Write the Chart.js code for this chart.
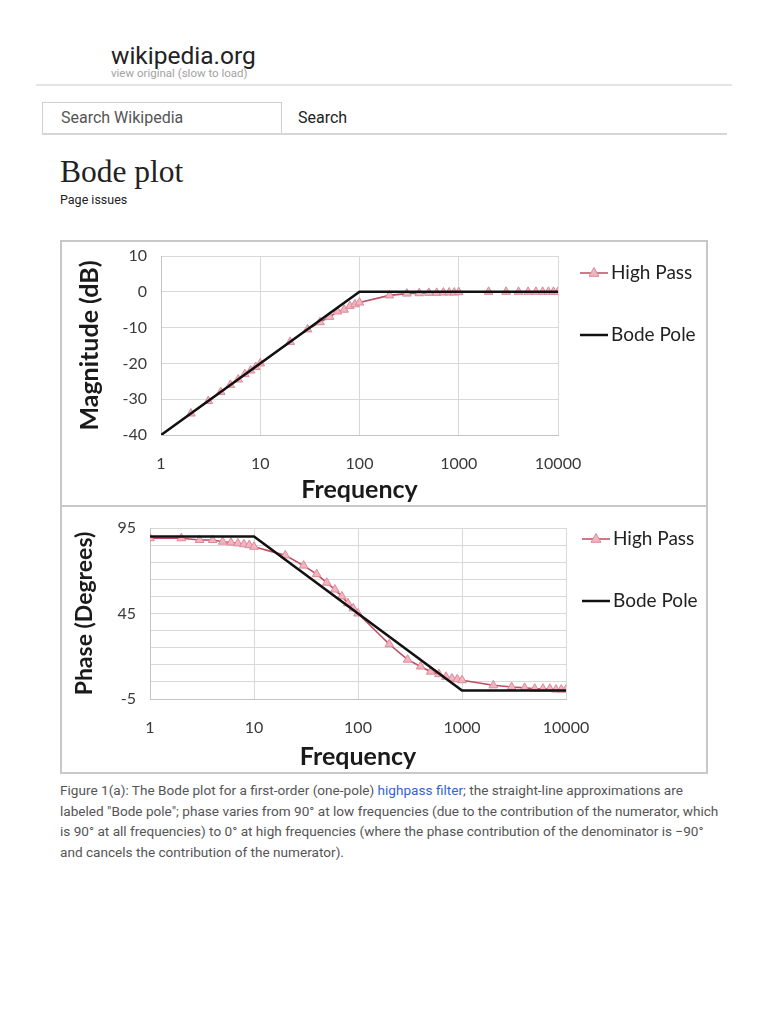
<!DOCTYPE html>
<html>
<head>
<meta charset="utf-8">
<script src="https://cdn.jsdelivr.net/npm/chart.js@4.4.1/dist/chart.umd.min.js"></script>
<style>
  body { margin: 0; background: #fff; font-family: Roboto, sans-serif; color: #222; }
  #page { position: relative; width: 768px; height: 1024px; overflow: hidden; }
  .abs { position: absolute; white-space: nowrap; }
  canvas { position: absolute; }
</style>
</head>
<body>
<div id="page">
  <div class="abs" style="left:111px;top:42px;font-size:24.5px;line-height:28px;color:#222">wikipedia.org</div>
  <div class="abs" style="left:111px;top:67px;font-size:11.5px;line-height:13px;color:#a2a2a2">view original (slow to load)</div>
  <div class="abs" style="left:36px;top:84px;width:696px;height:2px;background:#e4e4e4"></div>

  <div class="abs" style="left:42px;top:102px;width:240px;height:32px;border:1px solid #cfcfcf;box-sizing:border-box"></div>
  <div class="abs" style="left:42px;top:133px;width:685px;height:2px;background:#d6d6d6"></div>
  <div class="abs" style="left:61px;top:108px;font-size:16px;line-height:20px;color:#555">Search Wikipedia</div>
  <div class="abs" style="left:298px;top:108px;font-size:16px;line-height:20px;color:#222">Search</div>

  <div class="abs" style="left:60px;top:153px;font-family:'Liberation Serif',serif;font-size:31.5px;line-height:38px;color:#222">Bode plot</div>
  <div class="abs" style="left:60px;top:192px;font-size:12.5px;line-height:16px;color:#222">Page issues</div>

  <div class="abs" style="left:60px;top:240px;width:648px;height:534px;border:2px solid #c8c8c8;box-sizing:border-box"></div>
  <div class="abs" style="left:60px;top:505px;width:648px;height:2px;background:#c8c8c8"></div>
  <canvas id="mag" width="644" height="263" style="left:62px;top:242px"></canvas>
  <canvas id="phase" width="644" height="265" style="left:62px;top:507px"></canvas>

  <div class="abs" style="left:60px;top:780px;font-size:13.6px;line-height:20.7px;color:#555">Figure 1(a): The Bode plot for a first-order (one-pole) <span style="color:#3366cc">highpass filter</span>; the straight-line approximations are<br>labeled "Bode pole"; phase varies from 90° at low frequencies (due to the contribution of the numerator, which<br>is 90° at all frequencies) to 0° at high frequencies (where the phase contribution of the denominator is −90°<br>and cancels the contribution of the numerator).</div>
</div>

<script>
// values
const decades = [1, 10, 100, 1000, 10000];

const magFreq = [2, 3, 4, 5, 6, 7, 8, 9, 10, 20, 30, 40, 50, 60, 70, 80, 90,
  100, 200, 300, 400, 500, 600, 700, 800, 900,
  1000, 2000, 3000, 4000, 5000, 6000, 7000, 8000, 9000, 10000];
const magHighPass = [-34, -30.5, -28, -26, -24.5, -23, -22, -21, -20, -14, -10.5, -8.5, -7, -5.5, -5, -4, -3.5,
  -3, -1, -0.5, -0.4, -0.3, -0.3, -0.2, -0.2, -0.2,
  -0.1, 0, 0, 0, 0, 0, 0, 0, 0, 0];
const magPoleFreq = [1, 100, 10000];
const magPole = [-40, 0, 0];

const phaseFreq = [1, 2, 3, 4, 5, 6, 7, 8, 9, 10, 20, 30, 40, 50, 60, 70, 80, 90,
  100, 200, 300, 400, 500, 600, 700, 800, 900,
  1000, 2000, 3000, 4000, 5000, 6000, 7000, 8000, 9000, 10000];
const phaseHighPass = [89, 89, 88, 88, 87, 86.5, 86, 85.5, 85, 84, 79, 73, 68, 63, 59, 55, 51, 48,
  45, 27, 18, 14, 11, 9.5, 8, 7, 6.5,
  6, 3, 2, 1.5, 1, 1, 1, 0.5, 0.5, 0.5];
const phasePoleFreq = [1, 10, 1000, 10000];
const phasePole = [90, 90, 0, 0];
const phaseLabels = [-5, 45, 95];

const FONT = 'Lato, "Open Sans", sans-serif';
const pink = '#bd4d62';
const pinkFill = '#f2b4bf';
const pinkEdge = '#dc8a99';

function pts(xs, ys) { return xs.map((x, i) => ({ x, y: ys[i] })); }

function triangle(ctx, x, y, r) {
  ctx.beginPath();
  ctx.moveTo(x, y - r);
  ctx.lineTo(x + r * 0.9, y + r * 0.6);
  ctx.lineTo(x - r * 0.9, y + r * 0.6);
  ctx.closePath();
  ctx.fillStyle = pinkFill;
  ctx.fill();
  ctx.strokeStyle = pinkEdge;
  ctx.lineWidth = 1;
  ctx.stroke();
}

// right-hand legend like the spreadsheet one
const sideLegend = {
  id: 'sideLegend',
  afterDraw(chart, args, o) {
    const ctx = chart.ctx;
    ctx.save();
    ctx.font = '19px ' + FONT;
    ctx.textBaseline = 'middle';
    // High Pass
    ctx.strokeStyle = pink; ctx.lineWidth = 1.5;
    ctx.beginPath(); ctx.moveTo(o.x, o.y1); ctx.lineTo(o.x + 28, o.y1); ctx.stroke();
    triangle(ctx, o.x + 14, o.y1, 5.5);
    ctx.fillStyle = '#222';
    ctx.fillText('High Pass', o.x + 31, o.y1);
    // Bode Pole
    ctx.strokeStyle = '#111'; ctx.lineWidth = 2.5;
    ctx.beginPath(); ctx.moveTo(o.x, o.y2); ctx.lineTo(o.x + 28, o.y2); ctx.stroke();
    ctx.fillText('Bode Pole', o.x + 31, o.y2);
    ctx.restore();
  }
};

function bode(canvas, c) {
  return new Chart(canvas, {
    type: 'scatter',
    data: {
      datasets: [
        {
          label: 'High Pass', data: c.hp, showLine: true, order: 1,
          borderColor: pink, borderWidth: 1.6,
          pointStyle: 'triangle', pointRadius: 5,
          pointBackgroundColor: pinkFill, pointBorderColor: pinkEdge, pointBorderWidth: 1
        },
        {
          label: 'Bode Pole', data: c.pole, showLine: true, order: 0,
          borderColor: '#111', borderWidth: 2.6, pointRadius: 0
        }
      ]
    },
    options: {
      responsive: false,
      animation: false,
      layout: { padding: { left: 0, top: c.top, right: c.right, bottom: 0 } },
      plugins: { legend: { display: false }, tooltip: { enabled: false }, sideLegend: c.legend },
      scales: {
        x: {
          type: 'logarithmic', min: 1, max: 10000,
          afterBuildTicks: s => { s.ticks = decades.map(v => ({ value: v })); },
          afterFit: s => { s.height = c.xh; s.paddingLeft = 0; s.paddingRight = 0; },
          ticks: { color: '#3a3a3a', font: { family: FONT, size: 16 }, padding: c.xpad, autoSkip: false, maxRotation: 0, callback: v => String(v) },
          grid: { color: '#d8d8d8', drawTicks: false },
          border: { color: '#c4c4c4' },
          title: { display: true, text: 'Frequency', color: '#1a1a1a', font: { family: FONT, size: 25, weight: 'bold' }, padding: { top: 0, bottom: 0 } }
        },
        y: {
          min: c.ymin, max: c.ymax,
          ticks: { stepSize: 10, autoSkip: false, color: '#3a3a3a', font: { family: FONT, size: 16 }, padding: 14, callback: c.ylab },
          afterFit: s => { s.width = c.yw; s.paddingTop = 0; s.paddingBottom = 0; },
          grid: { color: '#d8d8d8', drawTicks: false },
          border: { color: '#c4c4c4' },
          title: { display: true, text: c.ytitle, color: '#1a1a1a', font: { family: FONT, size: c.ytsize, weight: 'bold' }, padding: { top: c.ytpad, bottom: 0 } }
        }
      }
    },
    plugins: [sideLegend]
  });
}

bode(document.getElementById('mag'), {
  hp: pts(magFreq, magHighPass), pole: pts(magPoleFreq, magPole),
  ymin: -40, ymax: 10, ylab: v => String(v),
  ytitle: 'Magnitude (dB)', ytsize: 25,
  top: 14, right: 148, yw: 99, xh: 70, xpad: 19, ytpad: 13,
  legend: { x: 518, y1: 31, y2: 93 }
});

bode(document.getElementById('phase'), {
  hp: pts(phaseFreq, phaseHighPass), pole: pts(phasePoleFreq, phasePole),
  ymin: -5, ymax: 95, ylab: v => (phaseLabels.includes(v) ? String(v) : ''),
  ytitle: 'Phase (Degrees)', ytsize: 23,
  top: 21, right: 140, yw: 88, xh: 73, xpad: 19, ytpad: 9,
  legend: { x: 520, y1: 32, y2: 94 }
});
</script>
</body>
</html>
